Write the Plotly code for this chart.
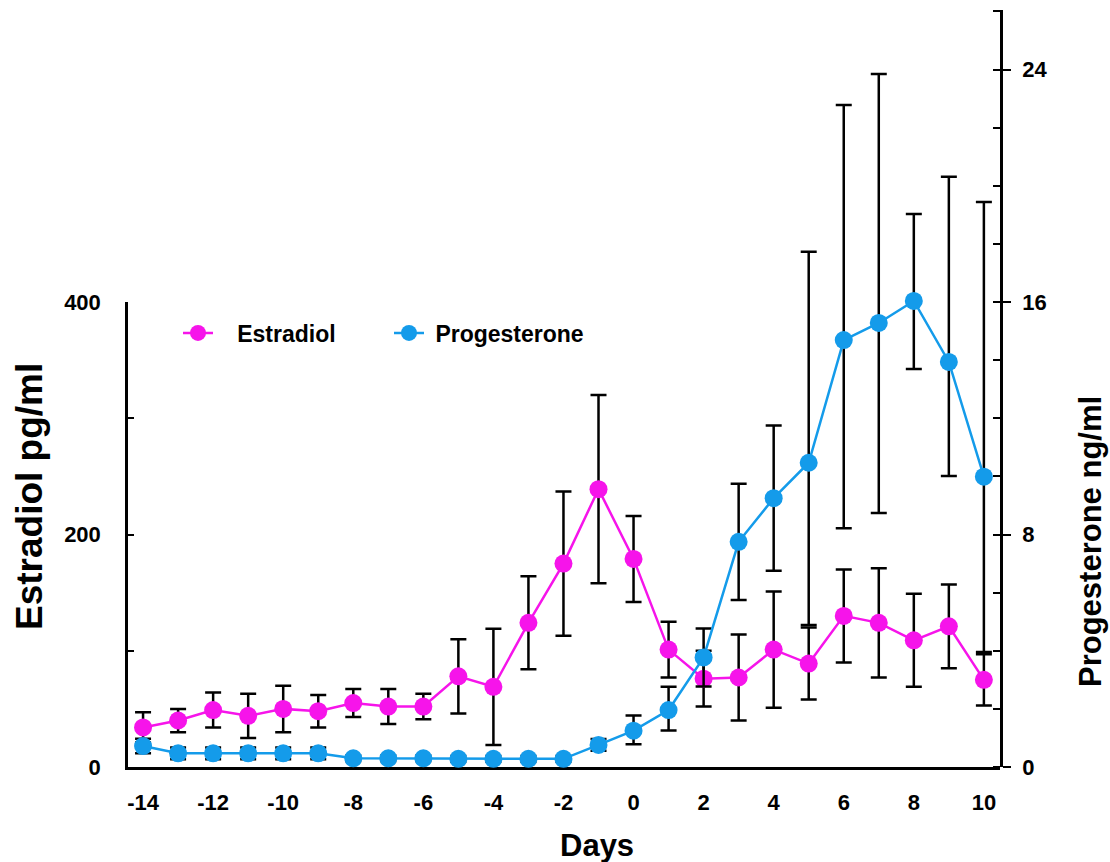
import plotly.graph_objects as go

# ---- data ----
days = list(range(-14, 11))
estradiol = [34, 40, 49, 44, 50, 48, 55, 52, 52, 78, 69, 124, 175, 239, 179,
             101, 76, 77, 101, 89, 130, 124, 109, 121, 75]
estradiol_err = [13, 10, 15, 19, 20, 14, 12, 15, 11, 32, 50, 40, 62, 81, 37,
                 24, 24, 37, 50, 31, 40, 47, 40, 36, 22]
progesterone = [0.72, 0.47, 0.47, 0.47, 0.47, 0.47, 0.30, 0.30, 0.30, 0.28, 0.28,
                0.28, 0.28, 0.76, 1.25, 1.96, 3.77, 7.75, 9.25, 10.47, 14.69,
                15.28, 16.04, 13.94, 9.99]
prog_err_plus = [0.25, 0.2, 0.2, 0.2, 0.2, 0.2, 0.1, 0.1, 0.1, 0.1, 0.1, 0.1, 0.1,
                 0.2, 0.52, 0.8, 1.0, 2.0, 2.5, 7.26, 8.09, 8.57, 2.99, 6.37, 9.45]
prog_err_minus = [0.25, 0.2, 0.2, 0.2, 0.2, 0.2, 0.1, 0.1, 0.1, 0.1, 0.1, 0.1, 0.1,
                  0.2, 0.47, 0.7, 1.0, 2.0, 2.5, 5.58, 6.47, 6.54, 2.34, 3.93, 6.03]
x_ticks = list(range(-14, 11, 2))
x_tick_labels = [str(v) for v in x_ticks]
left_ticks = [0, 200, 400]
right_ticks = [0, 8, 16, 24]

MAGENTA = "#F614EA"
BLUE = "#149BEA"
FONT = "Liberation Sans, Arial, sans-serif"

W, H = 1110, 862
ML, MR, MT, MB = 128, 110, 10, 95
plot_h = H - MT - MB
plot_w = W - ML - MR

fig = go.Figure()
fig.add_trace(go.Scatter(
    x=days, y=estradiol, name="\u00a0\u00a0\u00a0Estradiol", mode="lines+markers",
    line=dict(color=MAGENTA, width=2.5),
    marker=dict(color=MAGENTA, size=18),
    error_y=dict(type="data", array=estradiol_err, color="black", thickness=2.5, width=8),
    yaxis="y", cliponaxis=False,
))
fig.add_trace(go.Scatter(
    x=days, y=progesterone, name="\u00a0Progesterone", mode="lines+markers",
    line=dict(color=BLUE, width=2.5),
    marker=dict(color=BLUE, size=18),
    error_y=dict(type="data", symmetric=False, array=prog_err_plus,
                 arrayminus=prog_err_minus, color="black", thickness=2.5, width=8),
    yaxis="y2", cliponaxis=False,
))

tickfont = dict(family=FONT, size=22, color="black", weight="bold")
titlefont = dict(family=FONT, size=31, color="black", weight="bold")
ltitlefont = dict(family=FONT, size=37, color="black", weight="bold")

fig.update_layout(
    width=W, height=H, autosize=False,
    margin=dict(l=ML, r=MR, t=MT, b=MB, autoexpand=False),
    paper_bgcolor="white", plot_bgcolor="rgba(0,0,0,0)",
    font=dict(family=FONT, color="black"),
    showlegend=True,
    legend=dict(
        orientation="h", x=(178 - ML) / plot_w, y=(767 - 333) / plot_h,
        xanchor="left", yanchor="middle",
        font=dict(family=FONT, size=23, color="black", weight="bold"),
        bgcolor="rgba(0,0,0,0)", entrywidth=166, entrywidthmode="pixels",
        yref="paper",
    ),
    xaxis=dict(
        range=[-14.43, 10.46], tickvals=x_ticks, ticktext=x_tick_labels, ticks="",
        showline=True, linecolor="black", linewidth=3,
        showgrid=False, zeroline=False, tickfont=tickfont,
        ticklabelstandoff=14, anchor="y",
    ),
    yaxis=dict(
        domain=[0, 465 / plot_h], range=[0, 400], tickvals=left_ticks,
        ticks="inside", ticklen=6, tickwidth=2, tickcolor="black",
        minor=dict(dtick=100, ticks="inside", ticklen=6, tickwidth=2, tickcolor="black"),
        showline=True, linecolor="black", linewidth=2.5,
        showgrid=False, zeroline=False, tickfont=tickfont,
        ticklabelstandoff=20, anchor="x",
    ),
    yaxis2=dict(
        domain=[0, 1], range=[0, plot_h / 29.06], tickvals=right_ticks, side="right",
        ticks="outside", ticklen=8, tickwidth=2, tickcolor="black",
        minor=dict(dtick=2, ticks="inside", ticklen=7, tickwidth=2, tickcolor="black"),
        showline=True, linecolor="black", linewidth=2.5,
        showgrid=False, zeroline=False, tickfont=tickfont,
        ticklabelstandoff=7, anchor="x",
    ),
    annotations=[
        dict(text="Days", xref="paper", yref="paper",
             x=(597 - ML) / plot_w, y=-(845 - 767) / plot_h,
             xanchor="center", yanchor="middle", showarrow=False, font=titlefont),
        dict(text="Estradiol pg/ml", xref="paper", yref="paper",
             x=(30 - ML) / plot_w, y=(767 - 497) / plot_h,
             xanchor="center", yanchor="middle", textangle=-90, showarrow=False, font=ltitlefont),
        dict(text="Progesterone ng/ml", xref="paper", yref="paper",
             x=(1090 - ML) / plot_w, y=(767 - 542) / plot_h,
             xanchor="center", yanchor="middle", textangle=-90, showarrow=False, font=titlefont),
    ],
)

fig.write_html(
    "out.html",
    config={"displayModeBar": False},
    post_script="document.body.style.margin='0';document.body.style.overflow='hidden';",
)
